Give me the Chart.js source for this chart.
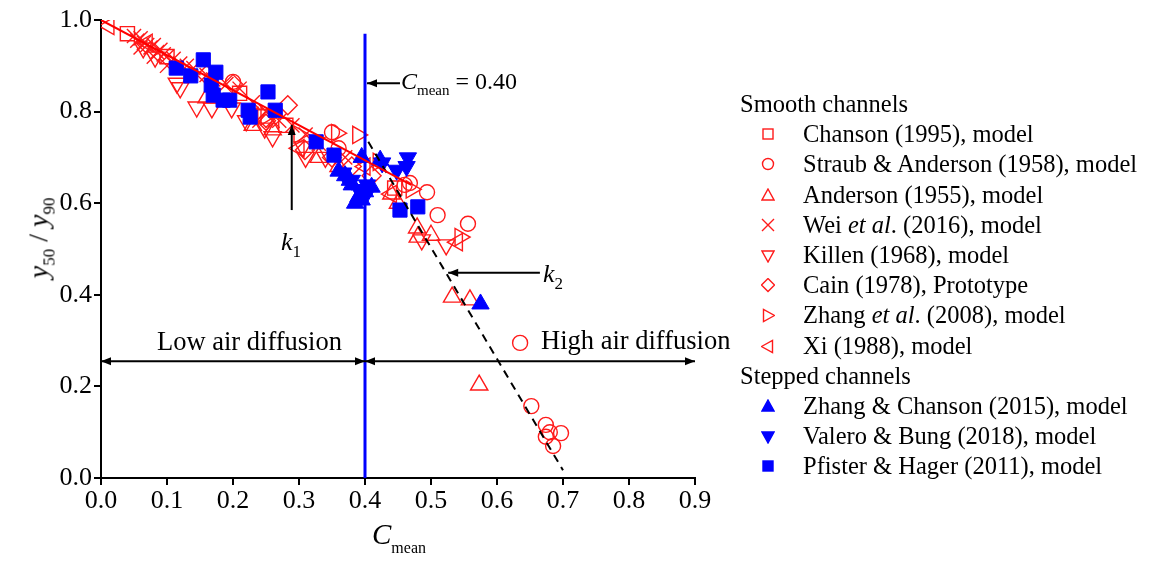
<!DOCTYPE html>
<html>
<head>
<meta charset="utf-8">
<script src="https://cdn.jsdelivr.net/npm/chart.js@4"></script>
<style>
  body { margin: 0; background: #fff; }
  #wrap { position: relative; width: 1152px; height: 564px; font-family: "Liberation Serif", "Times New Roman", serif; color: #000; }
  #chart { position: absolute; left: 0; top: 0; }
  .txt { position: absolute; white-space: nowrap; font-size: 23px; line-height: 1; }
  .txt sub { font-size: 15px; font-style: normal; vertical-align: -6px; }
  #ytitle { left: 41px; top: 238px; transform: translate(-50%, -50%) rotate(-90deg); font-size: 28px; }
  #ytitle sub { font-size: 17px; vertical-align: -7px; }
  #xtitle { left: 372px; top: 520px; font-size: 29px; }
  #xtitle sub { font-size: 16px; vertical-align: -9px; }
  #legend { position: absolute; left: 740px; top: 89px; font-size: 24.5px; }
  #legend .row { height: 30.2px; line-height: 30.2px; position: relative; white-space: nowrap; }
  #legend .item { padding-left: 63px; }
  #legend svg { position: absolute; left: 21px; top: 8px; }
  .kl { font-size: 26px; }
  .kl sub { font-size: 17px; vertical-align: -7px; }
  .zone { font-size: 26.5px; }
</style>
</head>
<body>
<div id="wrap">
  <canvas id="chart" width="1152" height="564"></canvas>
  <div class="txt" id="ytitle"><i>y</i><sub>50</sub> / <i>y</i><sub>90</sub></div>
  <div class="txt" id="xtitle"><i>C</i><sub>mean</sub></div>
  <div class="txt" style="left:401px; top:69px; font-size:24px;"><i>C</i><sub>mean</sub> = 0.40</div>
  <div class="txt kl" style="left:281px; top:229px;"><i>k</i><sub>1</sub></div>
  <div class="txt kl" style="left:543px; top:261px;"><i>k</i><sub>2</sub></div>
  <div class="txt zone" style="left:157px; top:328px;">Low air diffusion</div>
  <div class="txt zone" style="left:541px; top:327px;">High air diffusion</div>
  <div id="legend"></div>
</div>
<script>
// values: [C_mean, y50/y90]
const chanson1995 = [[0.04, 0.97], [0.10, 0.92], [0.21, 0.84], [0.28, 0.77], [0.445, 0.633]];
const straubAnderson1958 = [[0.20, 0.865], [0.35, 0.755], [0.36, 0.72], [0.46, 0.64], [0.468, 0.644], [0.494, 0.624],
    [0.51, 0.574], [0.556, 0.555], [0.635, 0.295], [0.652, 0.157], [0.674, 0.116], [0.68, 0.10],
    [0.697, 0.098], [0.685, 0.07], [0.674, 0.09]];
const anderson1955 = [[0.532, 0.395], [0.559, 0.389], [0.573, 0.203], [0.48, 0.526], [0.479, 0.546], [0.50, 0.53],
    [0.45, 0.60], [0.33, 0.70], [0.26, 0.76], [0.23, 0.77], [0.16, 0.83], [0.36, 0.68], [0.44, 0.62]];
const wei2016 = [[0.05, 0.965], [0.055, 0.955], [0.06, 0.96], [0.065, 0.95], [0.07, 0.945], [0.075, 0.94],
    [0.08, 0.945], [0.085, 0.93], [0.09, 0.935], [0.095, 0.925], [0.10, 0.92], [0.11, 0.915],
    [0.12, 0.905], [0.13, 0.90], [0.14, 0.895], [0.16, 0.88], [0.17, 0.87], [0.19, 0.86],
    [0.21, 0.85], [0.23, 0.82], [0.24, 0.78], [0.25, 0.80], [0.26, 0.78], [0.27, 0.78],
    [0.29, 0.77], [0.31, 0.75], [0.33, 0.73], [0.37, 0.70], [0.06, 0.94], [0.08, 0.92], [0.10, 0.90]];
const killen1968 = [[0.064, 0.939], [0.082, 0.919], [0.115, 0.862], [0.12, 0.852], [0.145, 0.81], [0.168, 0.808],
    [0.198, 0.808], [0.22, 0.78], [0.238, 0.793], [0.248, 0.764], [0.26, 0.745], [0.306, 0.723],
    [0.31, 0.70], [0.34, 0.70], [0.486, 0.52], [0.523, 0.509]];
const cain1978 = [[0.283, 0.814], [0.309, 0.716], [0.20, 0.86], [0.25, 0.78], [0.35, 0.70], [0.41, 0.66],
    [0.16, 0.88], [0.38, 0.68]];
const zhang2008 = [[0.389, 0.749], [0.357, 0.753], [0.544, 0.526], [0.42, 0.69], [0.30, 0.75], [0.47, 0.63], [0.25, 0.79]];
const xi1988 = [[0.012, 0.987], [0.54, 0.515], [0.30, 0.72], [0.44, 0.62], [0.07, 0.95], [0.40, 0.68], [0.23, 0.79]];
const zhangChanson2015 = [[0.37, 0.66], [0.377, 0.65], [0.395, 0.70], [0.39, 0.614], [0.40, 0.625], [0.395, 0.607],
    [0.423, 0.694], [0.38, 0.64], [0.41, 0.635], [0.385, 0.60], [0.36, 0.67], [0.575, 0.38]];
const valeroBung2018 = [[0.465, 0.699], [0.463, 0.68], [0.448, 0.672], [0.426, 0.688], [0.367, 0.666],
    [0.403, 0.64], [0.39, 0.63], [0.38, 0.65], [0.40, 0.615]];
const pfisterHager2011 = [[0.114, 0.895], [0.136, 0.878], [0.155, 0.913], [0.167, 0.858], [0.17, 0.836],
    [0.174, 0.886], [0.185, 0.825], [0.195, 0.825], [0.223, 0.803], [0.226, 0.788], [0.253, 0.843],
    [0.264, 0.803], [0.326, 0.734], [0.353, 0.705], [0.453, 0.585], [0.48, 0.592]];

// fitted lines and the C_mean = 0.40 limit
const k1Line = [[0, 1.0], [0.47, 0.64]];
const k2Line = [[0.405, 0.734], [0.70, 0.017]];
const limitLine = [[0.40, 0], [0.40, 0.97]];

const xTicks = [0, 0.1, 0.2, 0.3, 0.4, 0.5, 0.6, 0.7, 0.8, 0.9];
const yTicks = [0, 0.2, 0.4, 0.6, 0.8, 1.0];

const RED = '#ff1a1a';
const BLUE = '#0000ff';

function pts(arr) {
    return arr.map(p => ({ x: p[0], y: p[1] }));
}

function scatterSet(label, arr, style, rotation, radius, filled) {
    const col = filled ? BLUE : RED;
    return {
        label: label,
        data: pts(arr),
        pointStyle: style,
        rotation: rotation,
        pointRadius: radius,
        borderColor: col,
        backgroundColor: filled ? col : 'rgba(0,0,0,0)',
        borderWidth: filled ? 1 : 1.4,
        order: filled ? 1 : 2
    };
}

function lineSet(arr, color, width, dash) {
    return {
        type: 'line',
        data: pts(arr),
        borderColor: color,
        borderWidth: width,
        borderDash: dash || [],
        pointRadius: 0,
        showLine: true,
        fill: false,
        order: 0
    };
}

const datasets = [
    scatterSet('Chanson (1995), model', chanson1995, 'rect', 0, 10, false),
    scatterSet('Straub & Anderson (1958), model', straubAnderson1958, 'circle', 0, 7.5, false),
    scatterSet('Anderson (1955), model', anderson1955, 'triangle', 0, 10, false),
    scatterSet('Wei et al. (2016), model', wei2016, 'crossRot', 0, 10, false),
    scatterSet('Killen (1968), model', killen1968, 'triangle', 180, 10, false),
    scatterSet('Cain (1978), Prototype', cain1978, 'rectRot', 0, 9.5, false),
    scatterSet('Zhang et al. (2008), model', zhang2008, 'triangle', 90, 10, false),
    scatterSet('Xi (1988), model', xi1988, 'triangle', 270, 10, false),
    scatterSet('Zhang & Chanson (2015), model', zhangChanson2015, 'triangle', 0, 10, true),
    scatterSet('Valero & Bung (2018), model', valeroBung2018, 'triangle', 180, 10, true),
    scatterSet('Pfister & Hager (2011), model', pfisterHager2011, 'rect', 0, 10, true),
    lineSet(k1Line, '#ff0000', 2),
    lineSet(k2Line, '#000', 2, [8, 6]),
    lineSet(limitLine, BLUE, 3)
];

// arrows [x1, y1, x2, y2, head at start, head at end] in data units
const arrows = [
    [0, 0.255, 0.40, 0.255, true, true],
    [0.40, 0.255, 0.90, 0.255, true, true],
    [0.289, 0.585, 0.289, 0.771, false, true],
    [0.665, 0.448, 0.526, 0.448, false, true],
    [0.453, 0.862, 0.403, 0.862, false, true]
];

function head(ctx, x, y, ang) {
    ctx.save();
    ctx.translate(x, y);
    ctx.rotate(ang);
    ctx.beginPath();
    ctx.moveTo(0, 0);
    ctx.lineTo(-10, -4);
    ctx.lineTo(-10, 4);
    ctx.closePath();
    ctx.fill();
    ctx.restore();
}

const arrowPlugin = {
    id: 'arrows',
    afterDatasetsDraw(chart) {
        const ctx = chart.ctx;
        const sx = chart.scales.x, sy = chart.scales.y;
        ctx.save();
        ctx.strokeStyle = '#000';
        ctx.fillStyle = '#000';
        ctx.lineWidth = 2;
        arrows.forEach(a => {
            const x1 = sx.getPixelForValue(a[0]), y1 = sy.getPixelForValue(a[1]);
            const x2 = sx.getPixelForValue(a[2]), y2 = sy.getPixelForValue(a[3]);
            ctx.beginPath();
            ctx.moveTo(x1, y1);
            ctx.lineTo(x2, y2);
            ctx.stroke();
            const ang = Math.atan2(y2 - y1, x2 - x1);
            if (a[5]) head(ctx, x2, y2, ang);
            if (a[4]) head(ctx, x1, y1, ang + Math.PI);
        });
        ctx.restore();
    }
};

const tickFont = { family: '"Liberation Serif", serif', size: 26 };

new Chart(document.getElementById('chart'), {
    type: 'scatter',
    data: { datasets: datasets },
    options: {
        responsive: false,
        animation: false,
        layout: { padding: { left: 0, right: 457, top: 20, bottom: 0 } },
        plugins: { legend: { display: false }, tooltip: { enabled: false } },
        scales: {
            x: {
                type: 'linear', min: 0, max: 0.9,
                afterBuildTicks: s => { s.ticks = xTicks.map(v => ({ value: v })); },
                ticks: { font: tickFont, color: '#000', padding: 1, maxRotation: 0, callback: v => v.toFixed(1) },
                grid: { drawOnChartArea: false, tickLength: 7, color: '#000', lineWidth: 2 },
                border: { color: '#000', width: 2 },
                afterFit: s => { s.height = 86; }
            },
            y: {
                type: 'linear', min: 0, max: 1.0,
                afterBuildTicks: s => { s.ticks = yTicks.map(v => ({ value: v })); },
                ticks: { font: tickFont, color: '#000', padding: 2, callback: v => v.toFixed(1) },
                grid: { drawOnChartArea: false, tickLength: 7, color: '#000', lineWidth: 2 },
                border: { color: '#000', width: 2 },
                afterFit: s => { s.width = 101; }
            }
        }
    },
    plugins: [arrowPlugin]
});

// legend, built from the dataset labels
function marker(style, rot, filled) {
    const col = filled ? BLUE : RED;
    const f = filled ? col : 'none';
    let shape = '';
    if (style === 'rect') shape = `<rect x="2" y="2" width="10" height="10" fill="${f}" stroke="${col}" stroke-width="1.4"/>`;
    else if (style === 'circle') shape = `<circle cx="7" cy="7" r="5.5" fill="${f}" stroke="${col}" stroke-width="1.4"/>`;
    else if (style === 'crossRot') shape = `<path d="M1,1 L13,13 M13,1 L1,13" stroke="${col}" stroke-width="1.4"/>`;
    else if (style === 'rectRot') shape = `<path d="M7,0.5 L13.5,7 L7,13.5 L0.5,7 Z" fill="${f}" stroke="${col}" stroke-width="1.4"/>`;
    else shape = `<path d="M7,1 L13,12 L1,12 Z" fill="${f}" stroke="${col}" stroke-width="1.4" transform="rotate(${rot} 7 7.5)"/>`;
    return `<svg width="14" height="15" viewBox="0 0 14 15">${shape}</svg>`;
}

function labelHtml(t) {
    return t.replace('&', '&amp;').replace(' et al.', ' <i>et al</i>.');
}

let html = '<div class="row">Smooth channels</div>';
datasets.slice(0, 11).forEach((d, i) => {
    if (i === 8) html += '<div class="row">Stepped channels</div>';
    html += `<div class="row item">${marker(d.pointStyle, d.rotation, d.order === 1)}${labelHtml(d.label)}</div>`;
});
document.getElementById('legend').innerHTML = html;
</script>
</body>
</html>
